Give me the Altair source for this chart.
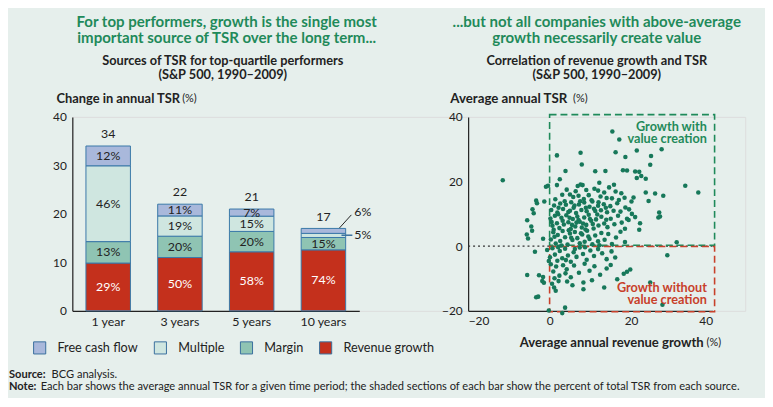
import altair as alt
import pandas as pd

FONT = "Lato"
BG = "#e6efec"
INK = "#222222"
GREEN = "#1f8a5a"
RED = "#c8402a"
DOT = "#17785a"

# ---------------- left chart data ----------------
categories = ["1 year", "3 years", "5 years", "10 years"]
totals = [34, 22, 21, 17]
components = ["Revenue growth", "Margin", "Multiple", "Free cash flow"]  # bottom -> top
share_revenue = [29, 50, 58, 74]
share_margin = [13, 20, 20, 15]
share_multiple = [46, 19, 15, 5]
share_fcf = [12, 11, 7, 6]
legend_order = ["Free cash flow", "Multiple", "Margin", "Revenue growth"]
legend_colors = ["#a9b8db", "#cfe6e0", "#8fc4b3", "#c4301c"]
hidden_labels = [("10 years", "Multiple"), ("10 years", "Free cash flow")]

# ---------------- right chart data ----------------
growth_x = [
    -11.5, 15.4, 17.1, 16.2, 7.6, 27.5, 21.4, 1.8, 7.9, 24.9, 24.7, 18.6, 3.9, 11.2, 13.7, 18.0, 19.0, 21.0,
    22.0, 22.5, 21.4, 23.6, 2.5, -0.9, -0.4, 7.6, 8.1, 1.8, 33.3, 36.5, 27.9, 25.9, 23.6, 20.6, 20.1, 24.3,
    -3.3, -3.1, -4.2, -3.9, -1.3, -5.5, -5.6, -5.3, -4.5, -4.3, -1.6, -3.6, -5.5, -2.6, -1.6, -1.8, -1.4,
    -3.3, -2.8, -0.2, 3.1, 3.8, 1.5, 1.1, 8.3, 8.3, 13.4, 16.6, 18.2, 19.0, 19.8, 24.7, 28.9, 27.7, 31.2,
    26.7, 27.1, 26.9, 22.2, 22.0, 21.0, 20.2, 19.0,
    4.2, 5.0, 5.8, 6.4, 7.1, 8.4, 9.6, 10.3, 11.0, 11.9, 12.5, 13.4, 14.6, 15.3, 16.2, 17.0, 17.6, 18.4,
    3.1, 1.4, 9.0, 14.0, 6.9, 12.2, 15.8,
    0.4, 1.1, 1.9, 2.6, 3.3, 4.0, 4.6, 5.3, 5.9, 6.5, 7.2, 7.8, 8.5, 9.1, 9.8, 10.5, 11.2, 11.9, 12.6,
    13.3, 14.1, 14.9, 15.7, 16.6, 17.4, 18.6, 19.5, 3.7, 6.1, 8.9, 10.9, 13.8, 2.2, 5.0, 12.0, 7.5,
    0.2, 0.7, 1.3, 1.8, 2.4, 2.9, 3.5, 4.1, 4.6, 5.2, 5.7, 6.3, 6.8, 7.4, 7.9, 8.5, 9.0, 9.6, 10.2, 10.8,
    11.4, 12.0, 12.7, 13.4, 14.2, 15.0, 15.9, 16.8, 17.7, 18.5, 19.4, 1.0, 3.2, 4.9, 6.6, 8.2, 9.9, 11.7,
    13.9, 5.5, 7.1, 8.8, 10.6, 2.1, 0.5,
    0.3, 0.9, 1.5, 2.0, 2.6, 3.2, 3.8, 4.4, 5.0, 5.6, 6.2, 6.8, 7.4, 8.0, 8.6, 9.2, 9.8, 10.5, 11.2, 11.9,
    12.7, 13.5, 14.4, 15.3, 16.3, 17.4, 18.5, 2.9, 5.3, 7.7, 9.5, 12.2, 4.7, 1.2,
    -0.6, 0.1, 0.7, 1.3, 1.9, 2.5, 3.1, 3.8, 4.5, 5.2, 5.9, 6.6, 7.4, 8.2, 9.1, 10.0, 10.9, 11.9, 12.9,
    14.0, 15.2, 16.1, 4.0, 6.2, 8.7, 2.1, -0.2,
    0.3, 0.9, 1.6, 2.4, 3.3, 4.2, 5.2, 6.0, 7.2, 8.6, 9.8, 11.0, 12.4, 14.0, 15.0, 1.2, 3.9,
    0.6, 2.2, 4.3, 5.6, 10.4,
]
tsr_y = [
    20.4, 35.5, 33.0, 29.1, 28.9, 30.0, 29.6, 28.1, 25.3, 27.9, 25.2, 27.6, 23.3, 23.2, 23.3, 23.5, 23.4, 23.1,
    23.0, 21.7, 21.1, 20.9, 20.7, 18.4, 18.7, 19.1, 18.9, 18.9, 18.7, 16.6, 15.6, 16.3, 16.6, 15.1, 13.8, 14.0,
    14.1, 13.3, 11.4, 10.2, 13.8, 8.0, 3.6, 2.4, 6.1, 4.8, 2.3, -1.7, -8.9, -9.0, -9.5, -10.8, -11.3,
    -15.8, -15.6, -19.9, -20.7, -19.0, -13.8, -12.8, -11.2, -13.3, -12.8, -10.2, -8.5, -7.9, -7.2, -11.2, -2.8, -18.1, 1.2,
    8.9, 9.2, 10.4, 7.1, 5.1, 9.0, 10.0, 8.5,
    17.5, 16.0, 15.2, 17.0, 15.6, 14.6, 15.8, 14.2, 17.8, 17.2, 15.4, 16.6, 18.2, 14.8, 16.9, 14.3, 16.4, 15.0,
    15.9, 14.5, 17.4, 14.9, 18.6, 19.6, 19.0,
    11.2, 12.6, 10.4, 13.2, 11.5, 12.8, 10.6, 13.6, 11.9, 10.3, 12.9, 11.2, 13.5, 10.8, 12.2, 13.8, 10.9, 12.5, 11.1,
    13.0, 10.5, 12.4, 11.0, 13.3, 10.7, 12.0, 11.4, 13.9, 12.6, 11.9, 11.6, 11.9, 11.9, 11.0, 13.6, 13.9,
    8.6, 6.3, 9.4, 7.1, 5.6, 8.8, 6.7, 9.6, 7.4, 5.3, 8.4, 6.1, 9.2, 7.6, 5.8, 8.9, 6.6, 9.7, 7.9, 5.5,
    8.3, 6.4, 9.1, 7.0, 5.9, 8.5, 6.8, 9.4, 7.3, 5.4, 8.1, 5.1, 7.9, 8.8, 7.3, 7.0, 8.4, 9.8,
    8.2, 6.6, 8.1, 5.2, 6.9, 9.9, 7.5,
    2.1, 4.3, 0.8, 3.5, 1.6, 4.7, 2.8, 0.5, 3.9, 1.9, 4.4, 2.5, 0.9, 3.6, 1.4, 4.8, 2.2, 0.6, 3.3, 1.5,
    4.1, 2.0, 3.8, 0.7, 2.7, 4.5, 1.3, 0.2, 2.6, 4.0, 3.0, 0.3, 4.9, 2.9,
    -1.2, -3.4, -0.6, -2.6, -4.5, -1.5, -3.7, -0.8, -2.9, -4.8, -1.9, -3.3, -0.4, -2.4, -4.2, -1.3, -3.0, -0.9, -2.2,
    -4.0, -1.6, -3.5, -4.3, -0.9, -0.3, -0.3, -4.6,
    -5.6, -7.8, -6.3, -9.1, -5.9, -7.1, -9.6, -6.0, -8.2, -5.4, -7.6, -6.2, -8.8, -6.9, -5.8, -9.9, -8.4,
    -11.6, -10.8, -10.9, -12.1, -10.5,
]

# ---------------- tables ----------------
share_map = {
    "Revenue growth": share_revenue,
    "Margin": share_margin,
    "Multiple": share_multiple,
    "Free cash flow": share_fcf,
}
rows = []
for i, cat in enumerate(categories):
    base = 0.0
    for comp in components:
        s = share_map[comp][i]
        v = totals[i] * s / 100.0
        rows.append({
            "cat": cat, "comp": comp, "y0": base, "y1": base + v, "mid": base + v / 2,
            "label": f"{s}%", "lc": "white" if comp == "Revenue growth" else INK,
            "show": (cat, comp) not in hidden_labels,
        })
        base += v
seg = pd.DataFrame(rows)
seg_lab = seg[seg["show"]]
tot = pd.DataFrame({"cat": categories, "total": totals, "lab": [str(t) for t in totals]})
pts = pd.DataFrame({"x": growth_x, "y": tsr_y})

DUMMY = pd.DataFrame({"d": [0]})


def txt(text, x, y, size=12.5, weight="normal", color=INK, align="left", baseline="middle", lh=None):
    kw = dict(fontSize=size, fontWeight=weight, color=color, align=align, baseline=baseline, font=FONT)
    if lh:
        kw["lineHeight"] = lh
    return alt.Chart(DUMMY).mark_text(**kw).encode(
        x=alt.value(x), y=alt.value(y), text=alt.value(text)
    )


# ---------------- left group ----------------
XL = alt.Scale(domain=categories, range=[0, 290], paddingInner=0.38, paddingOuter=0.19)
YL = alt.Scale(domain=[0, 40], nice=False)
AXL_X = alt.Axis(title=None, labelAngle=0, labelPadding=5, labelFontSize=12.5)
AXL_Y = alt.Axis(title=None, values=[0, 10, 20, 30, 40], labelPadding=6, labelFontSize=12)

bars = alt.Chart(seg).mark_bar(stroke="#3a78a8", strokeWidth=1).encode(
    x=alt.X("cat:N", scale=XL, axis=AXL_X, sort=categories),
    y=alt.Y("y0:Q", scale=YL, axis=AXL_Y),
    y2="y1:Q",
    color=alt.Color(
        "comp:N",
        scale=alt.Scale(domain=legend_order, range=legend_colors),
        legend=alt.Legend(
            title=None, orient="none", legendX=-40, legendY=226, direction="horizontal",
            symbolType="square", symbolSize=150, symbolStrokeColor="#3a6f9e", symbolStrokeWidth=1,
            symbolOpacity=1, labelFont=FONT, labelFontSize=12.8, labelColor=INK, columnPadding=13,
            labelOffset=11, padding=0,
        ),
    ),
)
seg_text = alt.Chart(seg_lab).mark_text(fontSize=12.5, font=FONT).encode(
    x=alt.X("cat:N", scale=XL, axis=AXL_X, sort=categories),
    y=alt.Y("mid:Q", scale=YL, axis=AXL_Y),
    text="label:N",
    color=alt.Color("lc:N", scale=None),
)
tot_text = alt.Chart(tot).mark_text(fontSize=12.5, font=FONT, color=INK, dy=-12).encode(
    x=alt.X("cat:N", scale=XL, axis=AXL_X, sort=categories),
    y=alt.Y("total:Q", scale=YL, axis=AXL_Y),
    text="lab:N",
)
lead6 = alt.Chart(pd.DataFrame({"a": [17.1], "b": [19.8]})).mark_rule(color=INK, strokeWidth=1).encode(
    x=alt.value(270), x2=alt.value(282),
    y=alt.Y("a:Q", scale=YL, axis=AXL_Y), y2="b:Q",
)
lead5 = alt.Chart(pd.DataFrame({"a": [15.6]})).mark_rule(color="#3a6f9e", strokeWidth=1.5).encode(
    x=alt.value(272), x2=alt.value(283),
    y=alt.Y("a:Q", scale=YL, axis=AXL_Y),
)
small_labels = alt.Chart(pd.DataFrame({"v": [20.4, 15.6], "t": ["6%", "5%"]})).mark_text(
    fontSize=12.5, font=FONT, color=INK, align="left"
).encode(
    x=alt.value(285), y=alt.Y("v:Q", scale=YL, axis=AXL_Y), text="t:N"
)

left = alt.layer(
    bars, seg_text, tot_text, lead6, lead5, small_labels,
    txt(["For top performers, growth is the single most",
         "important source of TSR over the long term..."], 156, -96, size=15.2, weight="bold",
        color=GREEN, align="center", lh=16),
    txt(["Sources of TSR for top-quartile performers", "(S&P 500, 1990–2009)"], 152, -56,
        size=12.9, weight="bold", align="center", lh=13.5),
    txt("Change in annual TSR", -16, -18, size=13, weight="bold"),
    txt("(%)", 111, -18, size=11),
    txt(["...but not all companies with above-average", "growth necessarily create value"], 530, -96,
        size=15.2, weight="bold", color=GREEN, align="center", lh=16),
    txt(["Correlation of revenue growth and TSR", "(S&P 500, 1990–2009)"], 530, -56,
        size=12.9, weight="bold", align="center", lh=13.5),
    txt("Average annual TSR", 382, -18, size=13.4, weight="bold"),
    txt("(%)", 506, -18, size=11),
    txt("Average annual revenue growth", 638, 229, size=13.2, weight="bold", align="right"),
    txt("(%)", 641, 229, size=11),
    txt("Source:", -64, 261, size=11.2, weight="bold"),
    txt("BCG analysis.", -21, 261, size=11.2),
    txt("Note:", -64, 273, size=11.2, weight="bold"),
    txt("Each bar shows the average annual TSR for a given time period; the shaded sections of each bar "
        "show the percent of total TSR from each source.", -32, 273, size=11.2),
)

# ---------------- right group ----------------
XR = alt.Scale(domain=[-20, 40], range=[400, 647], nice=False)
YR = alt.Scale(domain=[-20, 40], nice=False)
AXR_X = alt.Axis(title=None, values=[-20, 0, 20, 40], labelPadding=5, labelFontSize=12, orient="bottom")
AXR_Y = alt.Axis(title=None, values=[-20, 0, 20, 40], labelPadding=6, labelFontSize=12, orient="left",
                 offset=-400)

zero = alt.Chart(pd.DataFrame({"a": [-20], "b": [40], "y": [0]})).mark_rule(
    color="#333333", strokeDash=[2, 3], strokeWidth=1.2
).encode(
    x=alt.X("a:Q", scale=XR, axis=AXR_X), x2="b:Q", y=alt.Y("y:Q", scale=YR, axis=AXR_Y)
)
boxes = alt.Chart(pd.DataFrame({
    "a": [0, 0], "b": [40.5, 40.5], "lo": [0.3, -20.3], "hi": [40.7, -0.1], "c": [GREEN, RED]
})).mark_rect(fillOpacity=0, strokeWidth=1.6, strokeDash=[7, 4]).encode(
    x=alt.X("a:Q", scale=XR, axis=AXR_X), x2="b:Q",
    y=alt.Y("lo:Q", scale=YR, axis=AXR_Y), y2="hi:Q",
    stroke=alt.Color("c:N", scale=None),
)
dots = alt.Chart(pts).mark_circle(size=21, color=DOT, opacity=1).encode(
    x=alt.X("x:Q", scale=XR, axis=AXR_X), y=alt.Y("y:Q", scale=YR, axis=AXR_Y)
)
quad_text = alt.Chart(pd.DataFrame({
    "x": [38.6, 38.6], "y": [37.0, -12.8],
    "t": [["Growth with", "value creation"], ["Growth without", "value creation"]],
    "c": [GREEN, RED],
})).mark_text(fontSize=12.8, fontWeight="bold", font=FONT, align="right", lineHeight=13).encode(
    x=alt.X("x:Q", scale=XR, axis=AXR_X), y=alt.Y("y:Q", scale=YR, axis=AXR_Y),
    text="t", color=alt.Color("c:N", scale=None),
)
right = alt.layer(zero, boxes, dots, quad_text)

chart = alt.layer(left, right).resolve_scale(
    x="independent", y="independent", color="independent"
).properties(
    width=680, height=196,
    autosize=alt.AutoSizeParams(type="none"),
    padding={"left": 65, "top": 108, "right": 20, "bottom": 86},
    background=BG,
).configure_view(stroke=None).configure(font=FONT).configure_axis(
    domainColor=INK, domainWidth=1.2, labelColor=INK, labelFont=FONT, ticks=False, grid=False
)

chart.save("out.html", embed_options={"renderer": "svg", "actions": False})
